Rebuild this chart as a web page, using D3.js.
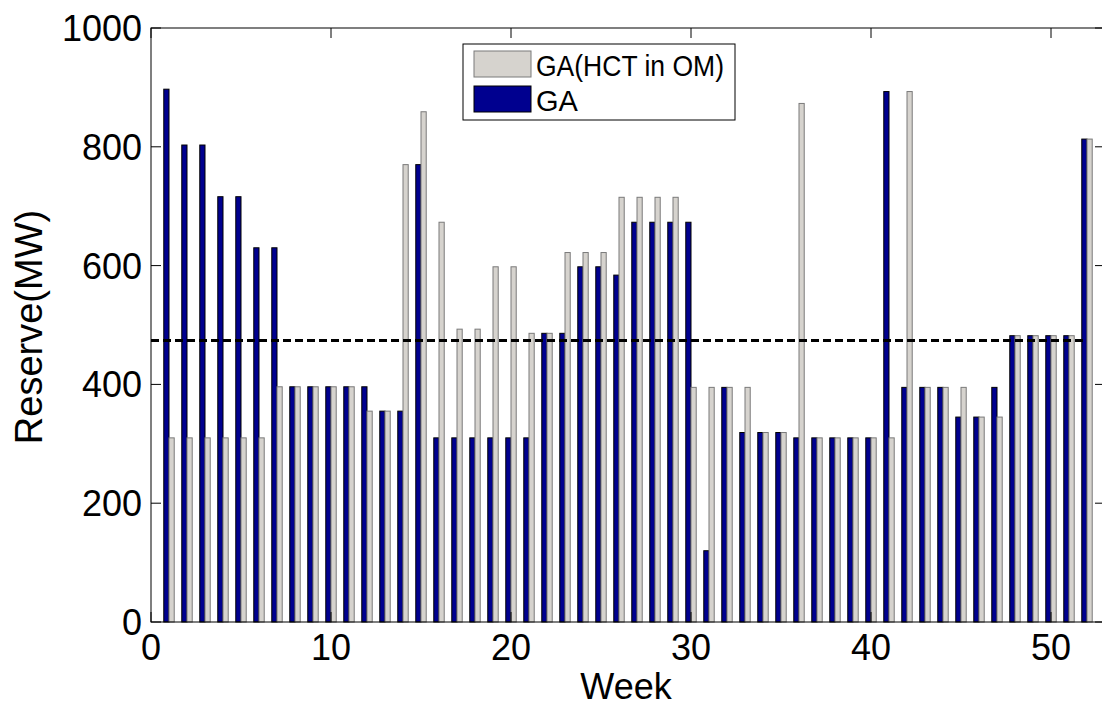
<!DOCTYPE html>
<html>
<head>
<meta charset="utf-8">
<script src="https://cdn.jsdelivr.net/npm/d3@7"></script>
<style>
  html, body { margin: 0; padding: 0; background: #ffffff; }
  svg { display: block; font-family: "Liberation Sans", Arial, sans-serif; }
</style>
</head>
<body>
<svg id="chart" width="1102" height="708"></svg>
<script>
// ---- data ----
const weeks = d3.range(1, 53);
const gaValues = [897, 803, 803, 716, 716, 630, 630, 396, 396, 396,
                  396, 396, 355, 355, 770, 310, 310, 310, 310, 310,
                  310, 486, 486, 598, 598, 584, 673, 673, 673, 673,
                  120, 395, 319, 319, 319, 310, 310, 310, 310, 310,
                  893, 395, 395, 395, 345, 345, 395, 482, 482, 482,
                  482, 813];
const hctValues = [310, 310, 310, 310, 310, 310, 396, 396, 396, 396,
                   396, 355, 355, 770, 859, 673, 493, 493, 598, 598,
                   486, 486, 622, 622, 622, 715, 715, 715, 715, 395,
                   395, 395, 395, 319, 319, 873, 310, 310, 310, 310,
                   310, 893, 395, 395, 395, 345, 345, 482, 482, 482,
                   482, 813];
const referenceLevel = 474;
const xTicks = [0, 10, 20, 30, 40, 50];
const yTicks = [0, 200, 400, 600, 800, 1000];
const seriesNames = ["GA(HCT in OM)", "GA"];
const xLabel = "Week";
const yLabel = "Reserve(MW)";

(function () {
// ---- layout ----
const pL = 151, pR = 1105, pT = 28, pB = 622;
const svg = d3.select("#chart");
const x = d3.scaleLinear().domain([0, 53]).range([pL, pR]);
const y = d3.scaleLinear().domain([0, 1000]).range([pB, pT]);
const barW = 0.29;
const blue = "#00008f", gray = "#d6d3ce", grayEdge = "#7a7a7a";

// bars: GA (left of week), GA(HCT in OM) (right of week)
svg.append("g").selectAll("rect").data(weeks).join("rect")
  .attr("x", (d) => x(d - barW))
  .attr("width", x(barW) - x(0))
  .attr("y", (d, i) => y(gaValues[i]))
  .attr("height", (d, i) => y(0) - y(gaValues[i]))
  .attr("fill", blue).attr("stroke", "#000").attr("stroke-width", 1);

svg.append("g").selectAll("rect").data(weeks).join("rect")
  .attr("x", (d) => x(d))
  .attr("width", x(barW) - x(0))
  .attr("y", (d, i) => y(hctValues[i]))
  .attr("height", (d, i) => y(0) - y(hctValues[i]))
  .attr("fill", gray).attr("stroke", grayEdge).attr("stroke-width", 1);

// dashed reference
svg.append("line")
  .attr("x1", x(0)).attr("x2", x(52))
  .attr("y1", y(referenceLevel)).attr("y2", y(referenceLevel))
  .attr("stroke", "#000").attr("stroke-width", 3)
  .attr("stroke-dasharray", "8,4");

// box
svg.append("rect").attr("x", pL).attr("y", pT)
  .attr("width", pR - pL).attr("height", pB - pT)
  .attr("fill", "none").attr("stroke", "#000").attr("stroke-width", 1);

// ticks (inward, MATLAB style)
const tl = 10;
const tg = svg.append("g").attr("stroke", "#000").attr("stroke-width", 1);
xTicks.forEach(t => {
  tg.append("line").attr("x1", x(t)).attr("x2", x(t)).attr("y1", pB).attr("y2", pB - tl);
  tg.append("line").attr("x1", x(t)).attr("x2", x(t)).attr("y1", pT).attr("y2", pT + tl);
});
yTicks.forEach(t => {
  tg.append("line").attr("x1", pL).attr("x2", pL + tl).attr("y1", y(t)).attr("y2", y(t));
  tg.append("line").attr("x1", pR).attr("x2", pR - tl).attr("y1", y(t)).attr("y2", y(t));
});

// tick labels
svg.append("g").selectAll("text").data(xTicks).join("text")
  .attr("x", d => x(d)).attr("y", 660)
  .attr("text-anchor", "middle").attr("font-size", 36).attr("fill", "#000")
  .text(d => d);
svg.append("g").selectAll("text").data(yTicks).join("text")
  .attr("x", pL - 9).attr("y", d => y(d)).attr("dy", "0.36em")
  .attr("text-anchor", "end").attr("font-size", 36).attr("fill", "#000")
  .text(d => d);

// axis labels
svg.append("text").attr("x", (pL + pR) / 2 - 2).attr("y", 699)
  .attr("text-anchor", "middle").attr("font-size", 36).attr("fill", "#000")
  .text(xLabel);
svg.append("text").attr("transform", "translate(42,327) rotate(-90)")
  .attr("text-anchor", "middle").attr("font-size", 38).attr("fill", "#000")
  .text(yLabel);

// legend
const lg = svg.append("g");
lg.append("rect").attr("x", 463).attr("y", 44).attr("width", 272).attr("height", 76)
  .attr("fill", "#fff").attr("stroke", "#000").attr("stroke-width", 1);
const legendItems = [
  { name: seriesNames[0], fill: gray, stroke: grayEdge, y0: 51, len: 188 },
  { name: seriesNames[1], fill: blue, stroke: "#000", y0: 86, len: null }
];
legendItems.forEach(it => {
  lg.append("rect").attr("x", 474).attr("y", it.y0).attr("width", 57).attr("height", 26)
    .attr("fill", it.fill).attr("stroke", it.stroke).attr("stroke-width", 1);
  const t = lg.append("text").attr("x", 536).attr("y", it.y0 + 24.5)
    .attr("font-size", 29).attr("fill", "#000").text(it.name);
  if (it.len) t.attr("textLength", it.len).attr("lengthAdjust", "spacingAndGlyphs");
});
})();
</script>
</body>
</html>
